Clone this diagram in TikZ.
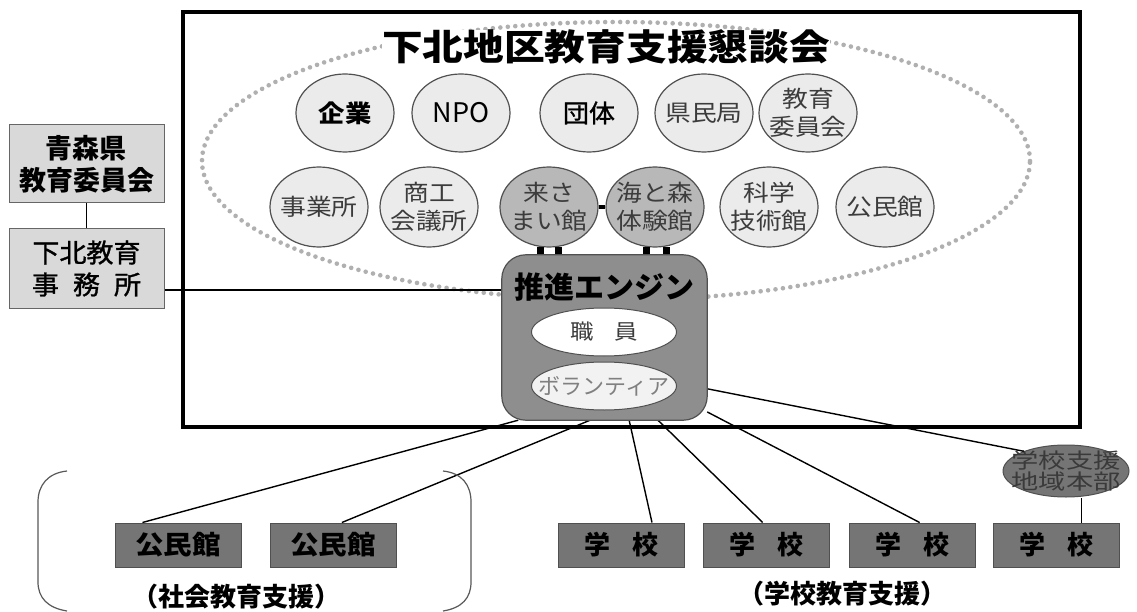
\documentclass[tikz,border=0pt]{standalone}
\usepackage{fontspec}
\setmainfont{Noto Sans CJK JP}
\newfontfamily\widejp{Noto Sans CJK JP}[FakeStretch=1.12]
\newfontfamily\semijp{Noto Sans CJK JP}[FakeBold=1.2, FakeStretch=1.04]
\usetikzlibrary{shapes.geometric,calc}
\definecolor{edgegray}{HTML}{505050}
\definecolor{lightfill}{HTML}{EBEBEB}
\definecolor{midfill}{HTML}{B8B8B8}
\definecolor{enginefill}{HTML}{8E8E8E}
\definecolor{darkfill}{HTML}{757575}
\definecolor{boxfill}{HTML}{D9D9D9}
\definecolor{textgray}{HTML}{3C3C3C}
\definecolor{hqtext}{HTML}{3A3A3A}
\definecolor{dotgray}{HTML}{B0B0B0}
\tikzset{
  org/.style={ellipse, draw=edgegray, line width=1.2pt, fill=lightfill,
    minimum width=98pt, minimum height=78pt, inner xsep=-22pt, inner ysep=-16pt,
    align=center, text=textgray, font=\fontsize{23}{28}\widejp},
  orgbig/.style={org, text=black},
  hall/.style={org, fill=midfill, minimum height=80pt},
  org2/.style={org, minimum height=80pt},
  leftbox/.style={rectangle, draw=gray!80!black, line width=1pt, fill=boxfill,
    minimum width=155pt, minimum height=78pt, inner sep=0pt, align=center},
  sitebox/.style={rectangle, draw=edgegray, line width=1pt, fill=darkfill,
    minimum width=126pt, minimum height=44pt, inner sep=0pt,
    font=\fontsize{26}{30}\selectfont\bfseries},
  link/.style={draw=black, line width=1.4pt},
  tab/.style={rectangle, fill=black, minimum width=7pt, minimum height=8pt, inner sep=0pt},
  inner/.style={ellipse, draw=edgegray, line width=1pt, minimum width=145pt,
    minimum height=48pt, inner xsep=-30pt, inner ysep=-6pt},
  bracket/.style={draw=gray!70!black, line width=1.2pt},
  caption/.style={font=\fontsize{26}{30}\selectfont\bfseries, inner sep=0pt},
}
\begin{document}
\begin{tikzpicture}[x=1pt,y=-1pt]
\useasboundingbox[fill=white] (0,0) rectangle (1137,612);

% frame
\draw[line width=4pt] (183,12) rectangle (1080,427);

% dotted ellipse
\draw[dotgray, line width=4.6pt, line cap=round, dash pattern=on 0pt off 7.5pt]
  (616,161) ellipse [x radius=414pt, y radius=139pt];

% title
\node[fill=white, inner sep=0pt, font=\fontsize{36}{40}\selectfont\bfseries]
  (title) at (606,47) {\scalebox{1.13}[1]{下北地区教育支援懇談会}};

% row 1
\node[orgbig, font=\fontsize{24}{28}\selectfont\bfseries] (kigyo) at (345,113) {\scalebox{1.1}[1]{企業}};
\node[orgbig, font=\fontsize{27}{28}\selectfont] (npo) at (461,113) {NPO};
\node[orgbig, font=\fontsize{25}{28}\semijp] (dantai) at (589,113) {団体};
\node[org] (kenmin) at (704,113) {県民局};
\node[org] (kyoiku) at (808,113) {教育\\委員会};

% row 2
\node[org2] (jigyo) at (319,207) {事業所};
\node[org2] (shoko) at (429,207) {商工\\会議所};
\node[hall] (kisama) at (549,207) {来さ\\まい館};
\node[hall] (umi) at (655,207) {海と森\\体験館};
\node[org2] (kagaku) at (769,207) {科学\\技術館};
\node[org2] (kominkanA) at (885,207) {公民館};
\draw[line width=4pt] (kisama.east) -- (umi.west);

% left boxes
\node[leftbox, font=\fontsize{27}{32}\selectfont\bfseries] (aomori) at (86.5,164)
  {青森県\\教育委員会};
\node[leftbox, minimum height=79pt, font=\fontsize{26}{32}\semijp] (jimu) at (86.5,268.5)
  {下北教育\\事\hspace{14pt}務\hspace{14pt}所};
\draw[link] (aomori.south) -- (jimu.north);

% engine box (anchor node)
\node[rectangle, minimum width=205pt, minimum height=165pt, inner sep=0pt] (engine) at (604.5,337.5) {};

% bottom boxes
\node[sitebox] (k1) at (178,545) {\scalebox{1.1}[1]{公民館}};
\node[sitebox] (k2) at (333,545) {\scalebox{1.1}[1]{公民館}};
\node[sitebox] (g1) at (621.5,545) {学\hspace{22pt}校};
\node[sitebox] (g2) at (766.5,545) {学\hspace{22pt}校};
\node[sitebox] (g3) at (912,545) {学\hspace{22pt}校};
\node[sitebox] (g4) at (1056,545) {学\hspace{22pt}校};

% school support HQ
\node[ellipse, draw=edgegray, line width=1pt, fill=darkfill, minimum width=126pt,
  minimum height=52pt, inner xsep=-20pt, inner ysep=-6pt, align=center, text=hqtext,
  font=\fontsize{21}{21}\selectfont] (honbu) at (1066,471)
  {\scalebox{1.3}[1]{学校支援}\\\scalebox{1.3}[1]{地域本部}};

% connectors
\coordinate (jl) at ($(jimu.south east)!0.23!(jimu.north east)$);
\draw[link] (jl) -- (jl -| engine.west);
\draw[link] ($(k1.north west)!0.22!(k1.north east)$) -- ($(engine.south west)!0.08!(engine.south east)$);
\draw[link] ($(k2.north west)!0.57!(k2.north east)$) -- ($(engine.south west)!0.43!(engine.south east)$);
\draw[link] ($(g1.north west)!0.74!(g1.north east)$) -- ($(engine.south west)!0.62!(engine.south east)$);
\draw[link] ($(g2.north west)!0.47!(g2.north east)$) -- ($(engine.south west)!0.76!(engine.south east)$);
\draw[link] ($(g3.north west)!0.56!(g3.north east)$) -- ($(engine.south east)!0.05!(engine.north east)$);
\coordinate (hb) at ($(g4.north west)!0.7!(g4.north east)$);
\draw[link] (hb) -- (hb |- honbu.south);
\draw[link] ($(engine.south east)!0.19!(engine.north east)$) -- (honbu.155);

% engine tabs
\node[tab] (t1) at (540,251) {};
\node[tab] (t2) at (558.5,251) {};
\node[tab] (t3) at (646.5,251) {};
\node[tab] (t4) at (666,251) {};

% engine box visible
\draw[draw=edgegray, line width=1.2pt, fill=enginefill, rounded corners=24pt]
  (engine.north west) rectangle (engine.south east);
\node[font=\fontsize{30}{34}\selectfont\bfseries, inner sep=0pt] (suishin) at (604,287) {推進エンジン};
\node[inner, fill=white, text=textgray, font=\fontsize{21}{24}\widejp] (shokuin) at (604,332) {職\hspace{20pt}員};
\node[inner, fill=white!95!black, text=gray, font=\fontsize{22}{24}\selectfont] (vol) at (604,386) {ボランティア};

% brackets
\draw[bracket] (67,471) .. controls (48,473) and (38,485) .. (38,502) -- (38,582)
  .. controls (38,598) and (48,608) .. (67,611);
\draw[bracket] (443,471) .. controls (462,473) and (471,485) .. (471,502) -- (471,582)
  .. controls (471,598) and (462,608) .. (443,611);

% captions
\node[caption] (cap1) at (236,597) {（社会教育支援）};
\node[caption] (cap2) at (842,594) {（学校教育支援）};
\end{tikzpicture}
\end{document}
